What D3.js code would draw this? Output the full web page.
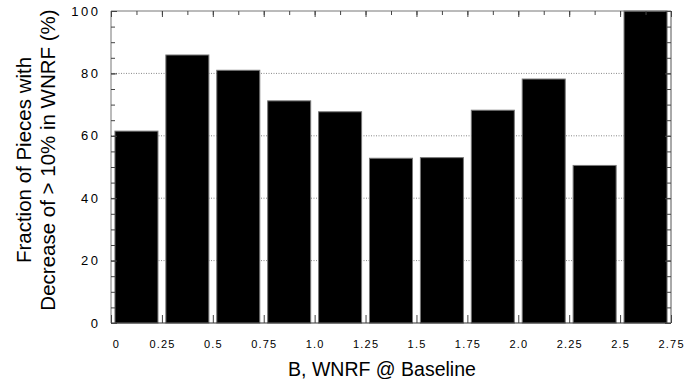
<!DOCTYPE html>
<html>
<head>
<meta charset="utf-8">
<script src="https://cdn.jsdelivr.net/npm/d3@7"></script>
<style>
  html, body { margin: 0; padding: 0; background: #fff; }
  svg { display: block; }
  text { font-family: "Liberation Sans", Arial, Helvetica, sans-serif; fill: #000; }
</style>
</head>
<body>
<svg id="chart" width="697" height="379"></svg>
<script>
// Bin lower edges of B (WNRF at baseline), bin width 0.25
const binStarts = [0, 0.25, 0.5, 0.75, 1.0, 1.25, 1.5, 1.75, 2.0, 2.25, 2.5];
// Fraction of pieces with > 10% decrease in WNRF, per bin (%)
const fractions = [61.5, 85.9, 81.0, 71.2, 67.7, 52.8, 53.0, 68.2, 78.2, 50.5, 100];
// Axis tick labels
const xTickValues = [0, 0.25, 0.5, 0.75, 1.0, 1.25, 1.5, 1.75, 2.0, 2.25, 2.5, 2.75];
const xTickLabels = ["0", "0.25", "0.5", "0.75", "1.0", "1.25", "1.5", "1.75", "2.0", "2.25", "2.5", "2.75"];
const yTickValues = [0, 20, 40, 60, 80, 100];
const yGridValues = [20, 40, 60, 80];

const svg = d3.select("#chart");
const plot = { left: 111, right: 671, top: 11, bottom: 323 };

const x = d3.scaleLinear().domain([0, 2.75]).range([plot.left, plot.right]);
const xBand = d3.scaleBand()
  .domain(binStarts)
  .range([plot.left, plot.right])
  .paddingInner(0.155)
  .paddingOuter(0.0775);
const y = d3.scaleLinear().domain([0, 100]).range([plot.bottom, plot.top]);

// dotted horizontal grid
svg.append("g")
  .selectAll("line")
  .data(yGridValues)
  .join("line")
  .attr("x1", plot.left).attr("x2", plot.right)
  .attr("y1", d => y(d)).attr("y2", d => y(d))
  .attr("stroke", "#888")
  .attr("stroke-width", 1)
  .attr("stroke-dasharray", "1,1.5");

// bars
svg.append("g")
  .selectAll("rect")
  .data(binStarts.map((b, i) => ({ b, v: fractions[i] })))
  .join("rect")
  .attr("x", d => xBand(d.b))
  .attr("width", xBand.bandwidth())
  .attr("y", d => y(d.v))
  .attr("height", d => y(0) - y(d.v))
  .attr("fill", "#000")
  .attr("stroke", "#777")
  .attr("stroke-width", 1);

// frame
const frame = svg.append("g").attr("fill", "none");
frame.append("line").attr("x1", plot.left).attr("x2", plot.right)
  .attr("y1", plot.top).attr("y2", plot.top).attr("stroke", "#777");
frame.append("line").attr("x1", plot.left).attr("x2", plot.right)
  .attr("y1", plot.bottom).attr("y2", plot.bottom).attr("stroke", "#333");
frame.append("line").attr("x1", plot.left).attr("x2", plot.left)
  .attr("y1", plot.top).attr("y2", plot.bottom).attr("stroke", "#777");
frame.append("line").attr("x1", plot.right).attr("x2", plot.right)
  .attr("y1", plot.top).attr("y2", plot.bottom).attr("stroke", "#555");

// inward ticks
const yMinor = d3.range(0, 101, 5);
const xMinor = d3.range(0, 2.7501, 0.125);

const addAxis = (axis, transform) => {
  const g = svg.append("g").attr("transform", transform).call(axis);
  g.select(".domain").remove();
  g.selectAll("line").attr("stroke", "#444");
  g.selectAll("text").remove();
  return g;
};

// left & right (minor every 5, major every 20)
addAxis(d3.axisRight(y).tickValues(yMinor).tickSize(4), `translate(${plot.left},0)`);
addAxis(d3.axisRight(y).tickValues(yTickValues).tickSize(6), `translate(${plot.left},0)`);
addAxis(d3.axisLeft(y).tickValues(yMinor).tickSize(4), `translate(${plot.right},0)`);
addAxis(d3.axisLeft(y).tickValues(yTickValues).tickSize(6), `translate(${plot.right},0)`);
// top (minor every 0.125) and bottom (every 0.25)
addAxis(d3.axisBottom(x).tickValues(xMinor).tickSize(4), `translate(0,${plot.top})`);
addAxis(d3.axisBottom(x).tickValues(xTickValues).tickSize(6), `translate(0,${plot.top})`);
addAxis(d3.axisTop(x).tickValues(xTickValues).tickSize(8), `translate(0,${plot.bottom})`);

// y tick labels
svg.append("g")
  .selectAll("text")
  .data(yTickValues)
  .join("text")
  .attr("x", 100.5)
  .attr("y", d => y(d))
  .attr("dy", "0.36em")
  .attr("text-anchor", "end")
  .style("font-size", "13px")
  .style("letter-spacing", "2.5px")
  .text(d => d);

// x tick labels
svg.append("g")
  .selectAll("text")
  .data(xTickValues)
  .join("text")
  .attr("x", (d, i) => x(d) + (i === 0 ? 5.5 : 0.6))
  .attr("y", 348)
  .attr("text-anchor", "middle")
  .style("font-size", "11px")
  .style("letter-spacing", "1.2px")
  .text((d, i) => xTickLabels[i]);

// axis titles
svg.append("text")
  .attr("x", 382)
  .attr("y", 376)
  .attr("text-anchor", "middle")
  .style("font-size", "19.5px")
  .text("B, WNRF @ Baseline");

const yTitle = svg.append("text")
  .attr("transform", "translate(0,160) rotate(-90)")
  .attr("text-anchor", "middle")
  .style("font-size", "20.5px");
yTitle.append("tspan").attr("x", 0).attr("y", 30.5).text("Fraction of Pieces with");
yTitle.append("tspan").attr("x", 0).attr("y", 54.5).text("Decrease of > 10% in WNRF (%)");
</script>
</body>
</html>
